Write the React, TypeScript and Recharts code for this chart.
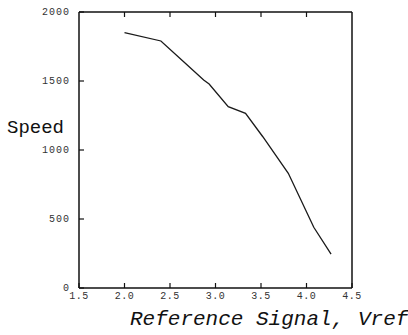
import { Line, LineChart, XAxis, YAxis } from "recharts";

const vref = [2.0, 2.4, 2.65, 2.87, 2.93, 3.14, 3.33, 3.52, 3.8, 4.08, 4.27];
const speed = [1850, 1790, 1640, 1507, 1478, 1314, 1266, 1096, 831, 440, 246];
const xTicks = [1.5, 2.0, 2.5, 3.0, 3.5, 4.0, 4.5];
const yTicks = [0, 500, 1000, 1500, 2000];

const data = vref.map((v, i) => ({ vref: v, speed: speed[i] }));

const mono = "'Liberation Mono', monospace";
const axisLine = { stroke: "#111", strokeWidth: 1.5 };

// ticks point inward, like the old plotter output
function TickBottom({ x, y, payload }: any) {
  return (
    <g>
      <line x1={x} x2={x} y1={y} y2={y - 5} stroke="#111" strokeWidth={1.2} />
      <text x={x} y={y + 11} textAnchor="middle" fontFamily={mono} fontSize={10} letterSpacing={0.5} fill="#333">
        {payload.value.toFixed(1)}
      </text>
    </g>
  );
}

function TickTop({ x, y }: any) {
  return <line x1={x} x2={x} y1={y} y2={y + 5} stroke="#111" strokeWidth={1.2} />;
}

function TickLeft({ x, y, payload }: any) {
  return (
    <g>
      <line x1={x} x2={x + 5} y1={y} y2={y} stroke="#111" strokeWidth={1.2} />
      <text x={x - 9} y={y + 3} textAnchor="end" fontFamily={mono} fontSize={10} letterSpacing={1} fill="#333">
        {payload.value}
      </text>
    </g>
  );
}

function TickRight({ x, y }: any) {
  return <line x1={x} x2={x - 5} y1={y} y2={y} stroke="#111" strokeWidth={1.2} />;
}

export default function App() {
  return (
    <div style={{ position: "absolute", left: 0, top: 0, width: 408, height: 335, background: "#fff" }}>
      <LineChart
        width={408}
        height={335}
        data={data}
        margin={{ top: 11, right: 55, bottom: 0, left: 0 }}
      >
        <XAxis
          xAxisId="bottom"
          dataKey="vref"
          type="number"
          domain={[1.5, 4.5]}
          ticks={xTicks}
          height={47}
          tickSize={0}
          tickMargin={0}
          tick={<TickBottom />}
          axisLine={axisLine}
          tickLine={false}
          interval={0}
        />
        <XAxis
          xAxisId="top"
          orientation="top"
          dataKey="vref"
          type="number"
          domain={[1.5, 4.5]}
          ticks={xTicks.slice(1, -1)}
          height={1}
          tickSize={0}
          tickMargin={0}
          tick={<TickTop />}
          axisLine={axisLine}
          tickLine={false}
          interval={0}
        />
        <YAxis
          yAxisId="left"
          type="number"
          domain={[0, 2000]}
          ticks={yTicks}
          width={79}
          tickSize={0}
          tickMargin={0}
          tick={<TickLeft />}
          axisLine={axisLine}
          tickLine={false}
          interval={0}
        />
        <YAxis
          yAxisId="right"
          orientation="right"
          type="number"
          domain={[0, 2000]}
          ticks={yTicks.slice(1, -1)}
          width={1}
          tickSize={0}
          tickMargin={0}
          tick={<TickRight />}
          axisLine={axisLine}
          tickLine={false}
          interval={0}
        />
        <Line
          xAxisId="bottom"
          yAxisId="left"
          dataKey="speed"
          type="linear"
          stroke="#1a1a1a"
          strokeWidth={1.3}
          dot={false}
          isAnimationActive={false}
        />
      </LineChart>
      <svg
        width={408}
        height={335}
        style={{ position: "absolute", left: 0, top: 0, pointerEvents: "none" }}
      >
        <text x={7} y={133} fontFamily={mono} fontSize={19} fill="#111">
          Speed
        </text>
        <text x={130} y={325} fontFamily={mono} fontStyle="italic" fontSize={21} fill="#111">
          Reference Signal,
        </text>
        <text x={358} y={325} fontFamily={mono} fontStyle="italic" fontSize={21} fill="#111">
          Vref
        </text>
      </svg>
    </div>
  );
}
